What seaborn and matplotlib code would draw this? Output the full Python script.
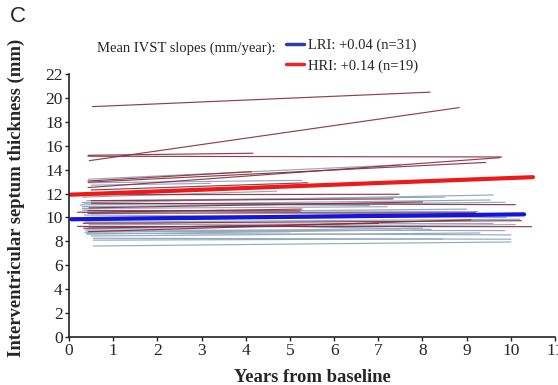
import matplotlib
matplotlib.use("Agg")
import matplotlib.pyplot as plt
import seaborn as sns
import pandas as pd
from matplotlib.lines import Line2D

# ---- data (start/end of each patient's regression line) ----
hri_x0 = [0.53, 0.46, 0.43, 0.43, 0.43, 0.43, 0.43, 0.50, 0.50, 0.51, 0.19, 0.43, 0.19, 0.32, 0.43, 0.43, 0.33, 0.50, 0.45]
hri_y0 = [19.27, 14.75, 15.20, 15.12, 12.95, 12.50, 13.05, 11.90, 11.40, 11.19, 10.43, 10.57, 9.25, 9.51, 8.81, 10.35, 9.10, 12.30, 10.80]
hri_x1 = [8.17, 8.83, 4.16, 9.79, 9.43, 9.75, 4.13, 7.47, 7.33, 10.10, 5.27, 5.23, 10.47, 10.24, 9.10, 9.20, 7.00, 5.40, 8.00]
hri_y1 = [20.48, 19.19, 15.37, 15.06, 14.60, 15.00, 13.83, 11.94, 11.55, 11.07, 10.70, 10.54, 9.23, 9.73, 9.80, 10.40, 9.50, 12.90, 11.30]

lri_x0 = [0.44, 0.44, 0.29, 0.25, 0.30, 0.30, 0.35, 0.35, 0.36, 0.40, 0.55, 0.55, 0.36, 0.40, 0.55, 0.40,
          0.30, 0.35, 0.45, 0.40, 0.30, 0.40, 0.50, 0.30, 0.45, 0.50, 0.40, 0.35, 0.45, 0.35, 0.50]
lri_y0 = [13.20, 12.90, 11.24, 11.05, 10.90, 10.60, 10.20, 9.60, 8.95, 8.68, 8.26, 7.61, 8.76, 8.60, 8.10, 11.40,
          10.75, 10.00, 9.40, 9.05, 11.70, 9.80, 8.45, 10.40, 8.85, 10.30, 9.60, 10.60, 9.15, 11.20, 12.70]
lri_x1 = [7.50, 5.27, 9.60, 9.53, 9.87, 9.25, 9.90, 10.20, 9.86, 10.00, 10.00, 10.00, 8.00, 7.50, 8.46, 8.50,
          7.20, 8.80, 9.60, 6.20, 4.70, 9.40, 9.30, 9.00, 5.00, 3.50, 8.20, 10.00, 10.10, 6.80, 3.20]
lri_y1 = [14.40, 13.10, 11.88, 11.46, 11.27, 10.49, 10.00, 9.85, 8.90, 8.54, 8.18, 7.95, 9.10, 8.95, 8.20, 11.70,
          10.90, 10.30, 9.50, 9.30, 12.20, 10.10, 8.70, 10.70, 8.80, 10.60, 9.00, 10.20, 9.40, 11.00, 12.85]

# mean regression lines
lri_mean_x = [0.05, 10.30]
lri_mean_y = [9.85, 10.26]
hri_mean_x = [0.00, 10.50]
hri_mean_y = [11.90, 13.37]

lri_label = "LRI: +0.04 (n=31)"
hri_label = "HRI: +0.14 (n=19)"

# ---- build long table ----
rows = []
for i, (a, b, c, d) in enumerate(zip(lri_x0, lri_y0, lri_x1, lri_y1)):
    rows += [("LRI", f"L{i}", a, b), ("LRI", f"L{i}", c, d)]
for i, (a, b, c, d) in enumerate(zip(hri_x0, hri_y0, hri_x1, hri_y1)):
    rows += [("HRI", f"H{i}", a, b), ("HRI", f"H{i}", c, d)]
df = pd.DataFrame(rows, columns=["group", "pid", "year", "ivst"])

mean_df = pd.DataFrame({
    "group": ["LRI"] * 2 + ["HRI"] * 2,
    "year": lri_mean_x + hri_mean_x,
    "ivst": lri_mean_y + hri_mean_y,
})

sns.set_style("ticks")
plt.rcParams["font.family"] = ["Liberation Serif", "DejaVu Serif"]

fig = plt.figure(figsize=(5.58, 3.85), dpi=100)
ax = fig.add_axes([0.1237, 0.1247, 0.871, 0.6831])

# individual lines: LRI first then HRI on top
sns.lineplot(data=df[df.group == "LRI"], x="year", y="ivst", units="pid", estimator=None,
             color="#94aac0", lw=0.85, ax=ax, legend=False)
sns.lineplot(data=df[df.group == "HRI"], x="year", y="ivst", units="pid", estimator=None,
             color="#862a3a", lw=0.85, ax=ax, legend=False, alpha=0.9)
# mean lines
sns.lineplot(data=mean_df[mean_df.group == "LRI"], x="year", y="ivst", color="#1515e0", lw=3.0, ax=ax,
             legend=False)
sns.lineplot(data=mean_df[mean_df.group == "HRI"], x="year", y="ivst", color="#ee1a1a", lw=3.0, ax=ax,
             legend=False)

ax.set_xlim(0, 11)
ax.set_ylim(0, 22)
ax.set_xticks(range(0, 12))
ax.set_yticks(range(0, 23, 2))
ax.tick_params(axis="both", labelsize=12.5, length=3, width=1, color="#222222", pad=1.5)
for s in ["top", "right"]:
    ax.spines[s].set_visible(False)
for s in ["left", "bottom"]:
    ax.spines[s].set_linewidth(1.2)
    ax.spines[s].set_color("#222222")

ax.set_xlabel("Years from baseline", fontsize=13.4, fontweight="bold", labelpad=7)
ax.set_ylabel("Interventricular septum thickness (mm)", fontsize=13.4, fontweight="bold")
ax.yaxis.set_label_coords(-0.09, 0.53)

# legend
fig.text(97 / 558, 1 - 48 / 385, "Mean IVST slopes (mm/year):", fontsize=10.5, va="center", ha="left")
handles = [Line2D([], [], color="#2b3fa0", lw=2.5), Line2D([], [], color="#e8242c", lw=2.5)]
fig.legend(handles, [lri_label, hri_label], loc="upper left", bbox_to_anchor=(286 / 558, 1 - 39 / 385),
           frameon=False, fontsize=10.5, handlelength=1.2, handletextpad=0.3, labelspacing=0.45,
           borderaxespad=0, borderpad=0)

fig.text(10 / 558, 1 - 16 / 385, "C", fontsize=16, family="Liberation Sans", va="center", ha="left")

fig.savefig("out.png", dpi=100)
